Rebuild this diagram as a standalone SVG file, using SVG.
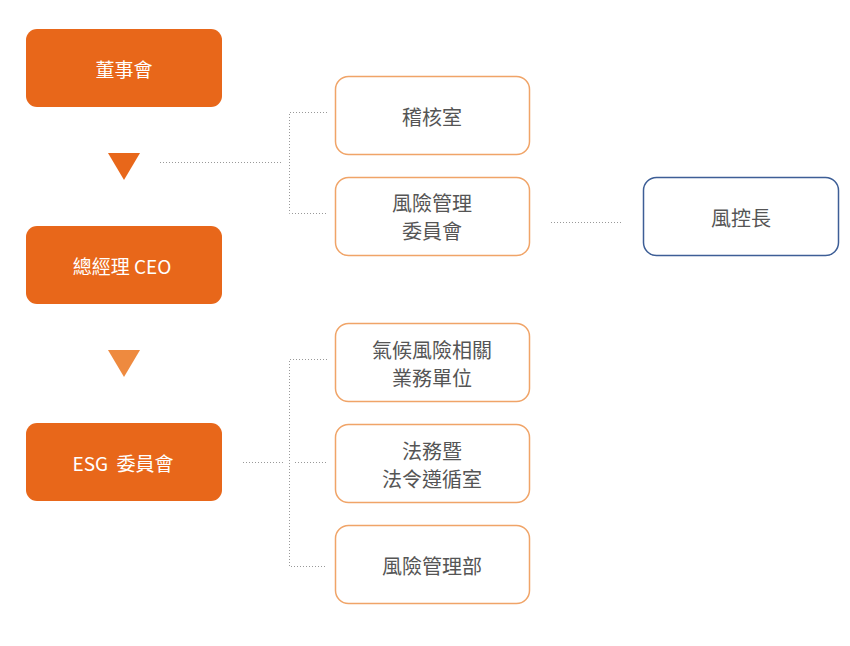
<svg xmlns="http://www.w3.org/2000/svg" width="850" height="646" viewBox="0 0 850 646">
<style>
.main{fill:#E8671A}
.sub{fill:#fff;stroke:#F0A468;stroke-width:1.5}
.blue{fill:#fff;stroke:#3D5E96;stroke-width:1.5}
.wt{fill:#fff;font-family:"Noto Sans CJK TC","Noto Sans",sans-serif;font-size:19px;text-anchor:middle;dominant-baseline:central}
.gt{fill:#555;font-family:"Noto Sans CJK TC","Noto Sans",sans-serif;font-size:20px;text-anchor:middle;dominant-baseline:central}
.dot{fill:none;stroke:#999;stroke-width:1;stroke-dasharray:1 2}
</style>
<rect width="850" height="646" fill="#fff"/>
<g id="connectors">
<polygon points="108,153 140,153 124,180" fill="#E8671A"/>
<polygon points="108,350 140,350 124,377" fill="#EE8A3F"/>
<path class="dot" d="M160,162.5H283"/>
<path class="dot" d="M327,112.5H289.5V213.5H327"/>
<path class="dot" d="M551,222.5H622"/>
<path class="dot" d="M243,462.5H283"/>
<path class="dot" d="M327,359.5H289.5V566.5H327"/>
<path class="dot" d="M295,462.5H327"/>
</g>
<g id="n-board"><rect class="main" x="26" y="29" width="196" height="78" rx="11"/><text class="wt" x="124" y="68">董事會</text></g>
<g id="n-ceo"><rect class="main" x="26" y="226" width="196" height="78" rx="11"/><text class="wt" x="122" y="265">總經理 CEO</text></g>
<g id="n-esg"><rect class="main" x="26" y="423" width="196" height="78" rx="11"/><text class="wt" x="123" y="462" xml:space="preserve">ESG  委員會</text></g>
<g id="n-audit"><rect class="sub" x="335.5" y="76.5" width="194" height="78" rx="13"/><text class="gt" x="432" y="116">稽核室</text></g>
<g id="n-riskcom"><rect class="sub" x="335.5" y="177.5" width="194" height="78" rx="13"/><text class="gt" x="432" y="202">風險管理</text><text class="gt" x="432" y="230">委員會</text></g>
<g id="n-cro"><rect class="blue" x="643.5" y="177.5" width="195" height="78" rx="13"/><text class="gt" x="741" y="217">風控長</text></g>
<g id="n-climate"><rect class="sub" x="335.5" y="323.5" width="194" height="78" rx="13"/><text class="gt" x="432" y="349">氣候風險相關</text><text class="gt" x="432" y="377">業務單位</text></g>
<g id="n-legal"><rect class="sub" x="335.5" y="424.5" width="194" height="78" rx="13"/><text class="gt" x="432" y="450">法務暨</text><text class="gt" x="432" y="478">法令遵循室</text></g>
<g id="n-riskdept"><rect class="sub" x="335.5" y="525.5" width="194" height="78" rx="13"/><text class="gt" x="432" y="565">風險管理部</text></g>
</svg>
